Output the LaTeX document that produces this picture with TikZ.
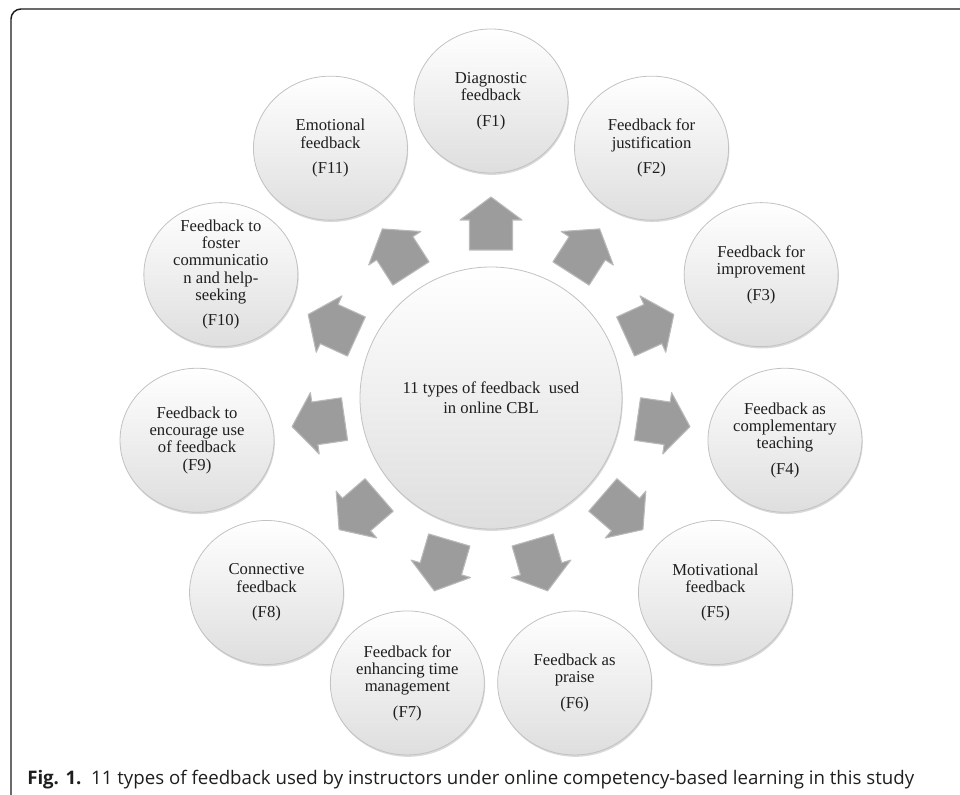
\documentclass[tikz,border=0pt]{standalone}
\usepackage{fontspec}
\setmainfont{Liberation Serif}
\newfontfamily\capfont{Open Sans}
\usetikzlibrary{shapes.geometric,shadows}
\definecolor{Rim}{HTML}{C2C2C2}
\definecolor{Shade}{HTML}{DEDEDE}
\definecolor{Wedge}{HTML}{9C9C9C}
\definecolor{Ink}{HTML}{1E1E1E}
\definecolor{Frame}{HTML}{1A1A1A}

\begin{document}
\begin{tikzpicture}[x=0.75pt,y=0.75pt,
    hub/.style={circle,draw=Rim,line width=0.6pt,top color=white,middle color=white,
      bottom color=Shade,minimum size=196.5pt,inner sep=0pt,align=center,text=Ink,
      font=\fontsize{12.5}{15}\selectfont,
      drop shadow={shadow xshift=0.6pt,shadow yshift=-1.4pt,opacity=0.3}},
    kind/.style={ellipse,draw=Rim,line width=0.6pt,top color=white,middle color=white,
      bottom color=Shade,minimum width=115.5pt,minimum height=108pt,inner sep=0pt,
      drop shadow={shadow xshift=0.6pt,shadow yshift=-1.4pt,opacity=0.3}},
    kindtext/.style={align=center,text=Ink,inner sep=0pt,font=\fontsize{12.5}{13}\selectfont},
    wedge/.style={fill=Wedge,draw=Wedge!70,line width=0.8pt,line join=round}
  ]
    \useasboundingbox (-491,-397) rectangle (469,398);
    % frame of the figure
    \draw[Frame,line width=1.1pt,rounded corners=7.5pt] (-480,-400) -- (-480,389) -- (472,389);
    % hub
    \node[hub] (c) at (0,0) {11 types of feedback~ used\\in online CBL};
    % outward block arrows
    \foreach \i in {1,...,11}{
      \pgfmathsetmacro\a{90-(\i-1)*360/11}
      \path[wedge,rotate=\a] (148,-21.5) -- (178,-21.5) -- (178,-31) -- (201,0)
        -- (178,31) -- (178,21.5) -- (148,21.5) -- cycle;
    }
    % the eleven kinds
    \foreach \i/\txt in {1/{Diagnostic\\feedback\\[6pt](F1)},
        2/{Feedback for\\justification\\[6pt](F2)},
        3/{Feedback for\\improvement\\[6pt](F3)},
        4/{Feedback as\\complementary\\teaching\\[6pt](F4)},
        5/{Motivational\\feedback\\[6pt](F5)},
        6/{Feedback as\\praise\\[6pt](F6)},
        7/{Feedback for\\enhancing time\\management\\[6pt](F7)},
        8/{Connective\\feedback\\[6pt](F8)},
        9/{Feedback to\\encourage use\\of feedback\\(F9)},
        10/{Feedback to\\foster\\communicatio\\n and help-\\seeking\\[6pt](F10)},
        11/{Emotional\\feedback\\[6pt](F11)}}{
      \pgfmathsetmacro\a{90-(\i-1)*360/11}
      \node[kind] (f\i) at (\a:297) {};
      \node[kindtext] (t\i) at (f\i) {\txt};
    }
    % caption
    \node[anchor=base west,inner sep=0pt,text=Ink,font=\capfont\fontsize{14}{16}\selectfont]
      (cap) at (-464,-386)
      {\textbf{Fig. 1.}\ \ 11 types of feedback used by instructors under online competency-based learning in this study};
  \end{tikzpicture}
\end{document}
